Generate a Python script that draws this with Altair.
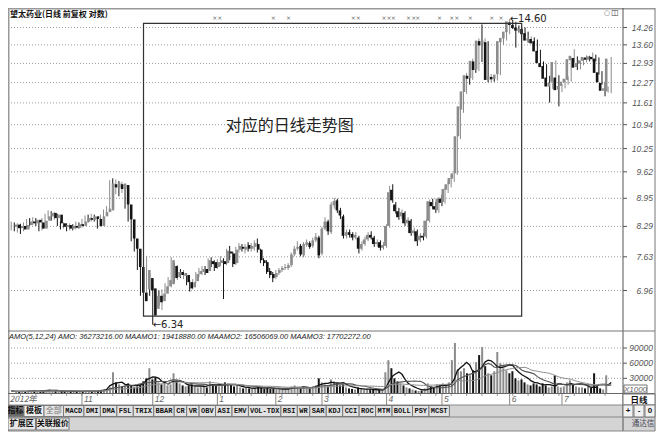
import altair as alt
import pandas as pd

# ---------------- data ----------------
opens = [8.28,8.33,8.25,8.30,8.22,8.32,8.40,8.36,8.44,8.38,
         8.24,8.42,8.52,8.60,8.48,8.56,8.36,8.28,8.32,8.24,
         8.30,8.26,8.34,8.30,8.40,8.48,8.44,8.52,8.46,8.30,
         8.52,8.62,8.66,9.30,9.22,9.30,9.18,9.28,8.80,8.45,
         8.02,7.80,7.42,6.92,6.98,7.20,7.00,6.62,6.86,6.76,
         6.90,7.04,7.08,7.44,7.22,7.32,7.24,7.26,7.12,7.02,
         7.14,7.28,7.32,7.38,7.34,7.54,7.52,7.42,7.50,7.54,
         7.50,7.74,7.70,7.50,7.78,7.84,7.78,7.88,7.80,7.84,
         7.90,7.78,7.56,7.52,7.34,7.28,7.22,7.30,7.36,7.40,
         7.40,7.46,7.68,7.80,7.86,7.66,7.88,7.92,7.86,7.98,
         8.04,7.70,8.24,8.40,8.16,8.78,8.90,8.66,8.52,8.08,
         8.16,8.12,8.04,8.04,7.80,7.90,8.00,8.10,8.04,7.90,
         7.94,7.82,7.86,8.30,9.16,8.80,8.64,8.52,8.60,8.36,
         8.42,8.14,8.18,7.98,8.08,8.06,8.42,8.86,8.76,8.66,
         8.94,8.86,9.16,9.30,9.44,9.58,10.60,11.40,11.96,12.50,
         12.42,13.00,12.72,13.74,13.62,13.70,12.36,12.46,12.40,12.56,
         13.70,13.84,14.08,14.46,14.36,14.26,14.14,14.20,14.04,13.76,
         13.82,13.74,13.38,12.94,12.84,12.44,12.14,12.30,12.44,12.04,
         12.16,12.28,12.36,13.04,13.12,12.80,12.92,13.02,13.14,13.06,
         13.16,13.10,12.62,12.26,12.00,11.98]
highs = [8.40,8.38,8.36,8.35,8.38,8.46,8.48,8.50,8.48,8.42,
         8.48,8.58,8.66,8.64,8.62,8.58,8.40,8.38,8.36,8.36,
         8.34,8.40,8.38,8.46,8.54,8.56,8.58,8.56,8.50,8.56,
         8.68,8.76,9.40,9.45,9.42,9.38,9.36,9.32,8.86,8.48,
         8.06,7.84,7.46,7.00,7.65,7.28,7.06,6.92,6.96,6.98,
         7.10,7.22,7.62,7.50,7.46,7.38,7.36,7.30,7.16,7.18,
         7.32,7.40,7.44,7.44,7.60,7.62,7.56,7.58,7.64,7.60,
         7.80,7.86,7.74,7.84,7.92,7.90,7.90,7.94,7.92,7.98,
         8.02,7.80,7.60,7.56,7.40,7.32,7.36,7.40,7.44,7.48,
         7.50,7.72,7.86,7.96,7.90,7.94,8.00,7.96,8.04,8.14,
         8.08,8.28,8.50,8.44,8.86,8.96,8.94,8.72,8.56,8.22,
         8.22,8.16,8.16,8.08,7.96,8.06,8.16,8.18,8.08,8.00,
         7.98,7.94,8.34,9.26,9.30,8.86,8.72,8.68,8.64,8.50,
         8.46,8.26,8.22,8.14,8.14,8.46,8.92,8.94,8.86,8.98,
         9.04,9.24,9.38,9.54,9.64,10.64,11.56,12.06,12.60,12.62,
         13.10,13.06,13.84,14.38,13.84,13.74,12.56,12.52,12.60,13.80,
         13.94,14.16,14.60,14.56,14.48,14.34,14.30,14.26,14.10,13.92,
         13.88,13.80,13.42,13.00,12.90,12.50,12.34,13.04,12.52,12.22,
         12.36,12.48,13.14,13.44,13.18,13.02,13.10,13.22,13.20,13.32,
         13.24,13.14,12.66,12.30,12.14,13.16]
lows = [8.20,8.18,8.15,8.12,8.18,8.28,8.30,8.32,8.30,8.18,
        8.20,8.38,8.46,8.42,8.44,8.30,8.22,8.24,8.18,8.20,
        8.20,8.22,8.24,8.26,8.36,8.38,8.40,8.40,8.24,8.28,
        8.48,8.56,8.62,9.10,9.05,9.00,9.08,8.70,8.40,7.96,
        7.74,7.36,6.86,6.70,6.92,6.86,6.34,6.56,6.68,6.60,
        6.84,6.96,7.02,7.12,7.16,7.20,7.18,7.06,6.94,6.98,
        7.10,7.22,7.26,7.26,7.30,7.42,7.34,7.38,7.44,6.80,
        7.46,7.56,7.42,7.46,7.72,7.74,7.70,7.74,7.74,7.76,
        7.72,7.50,7.44,7.28,7.20,7.12,7.18,7.26,7.32,7.36,
        7.36,7.42,7.64,7.76,7.64,7.62,7.84,7.80,7.82,7.94,
        7.60,7.66,8.20,8.10,8.12,8.70,8.60,8.46,8.02,8.02,
        8.04,7.98,8.00,7.70,7.76,7.86,7.96,8.00,7.84,7.84,
        7.76,7.78,7.82,8.26,8.84,8.58,8.44,8.46,8.30,8.30,
        8.08,8.08,7.86,7.94,7.98,8.02,8.38,8.70,8.60,8.60,
        8.76,8.82,9.08,9.22,9.36,9.54,10.52,11.30,11.90,12.20,
        12.36,12.60,12.66,12.98,13.56,12.28,12.28,12.30,12.34,12.52,
        13.60,13.76,14.00,14.20,13.50,14.06,14.06,13.92,13.68,13.64,
        13.56,13.30,12.86,12.70,12.32,11.62,12.06,12.24,11.50,11.96,
        12.08,12.20,12.30,12.96,12.70,12.72,12.86,12.96,13.00,13.00,
        13.00,12.54,12.20,11.82,11.94,11.92]
closes = [8.33,8.25,8.30,8.22,8.32,8.40,8.36,8.44,8.38,8.24,
          8.42,8.52,8.60,8.48,8.56,8.36,8.28,8.32,8.24,8.30,
          8.26,8.34,8.30,8.40,8.48,8.44,8.52,8.46,8.30,8.52,
          8.62,8.70,9.32,9.22,9.34,9.18,9.30,8.80,8.45,8.02,
          7.80,7.42,6.92,6.76,7.36,6.96,6.50,6.86,6.74,6.90,
          7.04,7.16,7.56,7.20,7.32,7.26,7.30,7.12,7.00,7.12,
          7.28,7.34,7.38,7.30,7.56,7.48,7.40,7.52,7.56,7.48,
          7.76,7.70,7.48,7.78,7.86,7.80,7.84,7.80,7.86,7.92,
          7.78,7.56,7.50,7.32,7.26,7.20,7.30,7.36,7.40,7.42,
          7.46,7.68,7.80,7.84,7.68,7.90,7.94,7.84,7.98,8.06,
          7.66,8.24,8.40,8.18,8.80,8.88,8.66,8.54,8.08,8.16,
          8.10,8.04,8.10,7.80,7.90,8.00,8.10,8.04,7.90,7.94,
          7.82,7.88,8.30,9.10,8.90,8.64,8.50,8.62,8.36,8.44,
          8.14,8.20,7.96,8.08,8.04,8.42,8.88,8.76,8.68,8.94,
          8.84,9.18,9.30,9.46,9.58,10.60,11.50,11.98,12.52,12.40,
          13.02,12.70,13.76,13.58,13.76,12.36,12.48,12.38,12.54,13.74,
          13.86,14.10,14.50,14.36,14.24,14.14,14.22,14.00,13.76,13.84,
          13.66,13.36,12.94,12.80,12.40,12.14,12.26,12.98,12.02,12.16,
          12.30,12.40,13.08,13.20,12.78,12.94,13.04,13.16,13.06,13.18,
          13.08,12.60,12.28,12.00,12.08,13.10]
amounts = [5000,4000,3500,4000,5000,4500,6000,4000,3500,5000,
           7000,8000,6000,5000,4500,6000,5000,4000,4500,3500,
           4000,5000,4500,5000,4500,4000,5500,5000,6000,7000,
           9000,12000,42000,22000,18000,14000,16000,20000,16000,12000,
           14000,18000,24000,30000,50000,28000,32000,22000,18000,20000,
           16000,18000,40000,26000,20000,16000,14000,16000,18000,14000,
           12000,14000,16000,12000,24000,18000,16000,14000,16000,22000,
           20000,18000,14000,16000,12000,10000,12000,10000,9000,11000,
           14000,12000,10000,12000,9000,10000,8000,9000,8000,10000,
           9000,14000,16000,12000,10000,14000,12000,10000,14000,16000,
           30000,22000,18000,14000,28000,24000,20000,16000,18000,12000,
           10000,9000,8000,12000,8000,7000,9000,8000,7000,6000,
           8000,7000,42000,66000,50000,30000,24000,20000,16000,12000,
           10000,8000,6000,5000,6000,10000,20000,14000,12000,18000,
           16000,20000,18000,22000,66000,100000,48000,44000,50000,40000,
           36000,46000,62000,76000,92000,54000,40000,36000,44000,82000,
           60000,50000,46000,40000,44000,30000,26000,28000,22000,18000,
           16000,20000,18000,14000,20000,16000,12000,14000,36000,14000,
           12000,14000,22000,26000,18000,14000,12000,12000,10000,14000,
           12000,40000,14000,10000,8000,36000]

price_ticks = [14.26, 13.60, 12.93, 12.27, 11.61, 10.94, 10.25, 9.62, 8.95, 8.29, 7.63, 6.96]
price_tick_labels = ["14.26", "13.60", "12.93", "12.27", "11.61", "10.94", "10.25",
                     "9.62", "8.95", "8.29", "7.63", "6.96"]
vol_ticks = [90000, 60000, 30000]
month_labels = ["11", "12", "1", "2", "3", "4", "5", "6", "7"]
month_start = [23, 46, 67, 86, 101, 122, 140, 162, 179]
event_idx = [66, 85, 90, 111, 121, 124, 129, 132, 139, 143, 149, 156, 159]
event_mark = ["××", "×", "×", "××", "××", "×", "××", "×", "×", "××", "×", "×", "×"]
extreme_idx = [162, 46]
extreme_price = [14.60, 6.34]
extreme_label = ["←14.60", "←6.34"]
indicator_buttons = ["MACD", "DMI", "DMA", "FSL", "TRIX", "BBAR", "CR", "VR", "OBV", "ASI", "EMV",
                     "VOL-TDX", "RSI", "WR", "SAR", "KDJ", "CCI", "ROC", "MTM", "BOLL", "PSY", "MCST"]

n = len(closes)
df = pd.DataFrame(dict(idx=list(range(n)), open=opens, high=highs, low=lows, close=closes,
                       amo=amounts,
                       dir=["up" if c >= o else "down" for o, c in zip(opens, closes)]))

# ---------------- scales (chart pixel space) ----------------
XS = alt.Scale(domain=[0, 195], range=[3.2, 603.2], nice=False, zero=False)
PS = alt.Scale(type="log", domain=[6.96, 14.26], range=[282.5, 19.5], nice=False, zero=False)
VS = alt.Scale(domain=[0, 90000], range=[385.5, 340], nice=False, zero=False)
DIR = alt.Scale(domain=["up", "down"], range=["#8c8c8c", "#141414"])

SANS = "Liberation Sans"
CJK = "Noto Sans CJK SC"

def X(f="idx"):
    return alt.X(f"{f}:Q", scale=XS, axis=None)

def YP(f):
    return alt.Y(f"{f}:Q", scale=PS, axis=None)

def YV(f):
    return alt.Y(f"{f}:Q", scale=VS, axis=None)

def one(**cols):
    return pd.DataFrame({k: [v] for k, v in cols.items()} or {"a": [0]})

def text_px(s, x, y, size=8, color="#222", font=SANS, align="left", weight="normal", style="normal"):
    return alt.Chart(one(t=s)).mark_text(
        align=align, baseline="middle", fontSize=size, color=color, font=font,
        fontWeight=weight, fontStyle=style
    ).encode(x=alt.value(x), y=alt.value(y), text="t:N")

def rect_px(x0, y0, x1, y1, fill, stroke="#808080", sw=1):
    return alt.Chart(one(a=0)).mark_rect(fill=fill, stroke=stroke, strokeWidth=sw).encode(
        x=alt.value(x0), x2=alt.value(x1), y=alt.value(y0), y2=alt.value(y1))

layers = []

# UI strips
layers.append(rect_px(0, 397, 615, 409, "#d4d4d4", stroke="#d4d4d4", sw=0))
layers.append(rect_px(0, 409, 647, 423, "#d4d4d4", stroke="#d4d4d4", sw=0))

# gridlines
pt = pd.DataFrame({"p": price_ticks, "lab": price_tick_labels})
layers.append(alt.Chart(pt).mark_rule(color="#9a9a9a", strokeDash=[1, 2], strokeWidth=1).encode(
    y=YP("p"), x=alt.value(0), x2=alt.value(615)))
vt = pd.DataFrame({"v": vol_ticks, "lab": [str(v) for v in vol_ticks]})
layers.append(alt.Chart(vt).mark_rule(color="#9a9a9a", strokeDash=[1, 2], strokeWidth=1).encode(
    y=YV("v"), x=alt.value(0), x2=alt.value(615)))

# candles
base = alt.Chart(df)
col = alt.Color("dir:N", scale=DIR, legend=None)
layers.append(base.mark_rule(strokeWidth=1).encode(x=X(), y=YP("low"), y2="high", color=col))
layers.append(base.mark_bar(size=2.6).encode(x=X(), y=YP("open"), y2="close", color=col))

# volume
layers.append(base.mark_bar(size=2).encode(x=X(), y=YV("amo"), y2=alt.value(385.5), color=col))
ma = (base.transform_window(ma5="mean(amo)", frame=[-4, 0], sort=[alt.SortField("idx")])
          .transform_window(ma12="mean(amo)", frame=[-11, 0], sort=[alt.SortField("idx")])
          .transform_window(ma24="mean(amo)", frame=[-23, 0], sort=[alt.SortField("idx")])
          .transform_fold(["ma5", "ma12", "ma24"], as_=["ma", "val"]))
layers.append(ma.mark_line().encode(
    x=X(), y=YV("val"),
    color=alt.Color("ma:N", scale=alt.Scale(domain=["ma5", "ma12", "ma24"],
                                             range=["#111111", "#555555", "#8f8f8f"]), legend=None),
    strokeWidth=alt.StrokeWidth("ma:N", scale=alt.Scale(domain=["ma5", "ma12", "ma24"],
                                                        range=[1.3, 1, 1]), legend=None),
    detail="ma:N"))

# annotation box and text
box = pd.DataFrame({"x0": [43.0], "x1": [165.9], "y0": [14.42], "y1": [6.49]})
layers.append(alt.Chart(box).mark_rect(fillOpacity=0, stroke="#333333", strokeWidth=1.2).encode(
    x=alt.X("x0:Q", scale=XS, axis=None), x2="x1:Q", y=YP("y0"), y2="y1"))
note = pd.DataFrame({"i": [90.5], "p": [10.9], "t": ["对应的日线走势图"]})
layers.append(alt.Chart(note).mark_text(fontSize=16, font=CJK, color="#222", align="center",
                                        baseline="middle").encode(
    x=alt.X("i:Q", scale=XS, axis=None), y=YP("p"), text="t:N"))

# extremes
ex = pd.DataFrame({"i": extreme_idx, "p": extreme_price, "t": extreme_label})
layers.append(alt.Chart(ex).mark_text(fontSize=10, font="DejaVu Sans", color="#222", align="left",
                                      baseline="middle", dx=0).encode(
    x=alt.X("i:Q", scale=XS, axis=None), y=YP("p"), text="t:N"))

# event marks
ev = pd.DataFrame({"i": event_idx, "t": event_mark})
layers.append(alt.Chart(ev).mark_text(fontSize=6, color="#666", font="DejaVu Sans", align="left",
                                      baseline="middle", dx=-2).encode(
    x=alt.X("i:Q", scale=XS, axis=None), y=alt.value(10), text="t:N"))

# right axis labels + ticks
layers.append(alt.Chart(pt).mark_text(align="right", baseline="middle", fontSize=8.5, font=SANS,
                                      fontStyle="italic", color="#555").encode(
    y=YP("p"), x=alt.value(645), text="lab:N"))
layers.append(alt.Chart(pt).mark_rule(color="#555").encode(y=YP("p"), x=alt.value(615), x2=alt.value(619)))
layers.append(alt.Chart(vt).mark_text(align="right", baseline="middle", fontSize=8.5, font=SANS,
                                      fontStyle="italic", color="#555").encode(
    y=YV("v"), x=alt.value(645), text="lab:N"))
layers.append(alt.Chart(vt).mark_rule(color="#555").encode(y=YV("v"), x=alt.value(615), x2=alt.value(619)))
layers.append(rect_px(616, 377, 639, 385, "#ffffff", stroke="#777", sw=1))
layers.append(text_px("X1000", 627.5, 381.5, size=8, color="#666", align="center", style="italic"))

# date axis
ms = pd.DataFrame({"i": month_start, "t": month_labels})
layers.append(alt.Chart(ms).mark_rule(color="#888").encode(
    x=alt.X("i:Q", scale=XS, axis=None), y=alt.value(385.5), y2=alt.value(397)))
wk = pd.DataFrame({"i": list(range(3, 196, 5))})
layers.append(alt.Chart(wk).mark_rule(color="#999").encode(
    x=alt.X("i:Q", scale=XS, axis=None), y=alt.value(385.5), y2=alt.value(388)))
layers.append(alt.Chart(ms).mark_text(align="left", baseline="middle", dx=2, fontSize=8.5, font=SANS,
                                      fontStyle="italic", color="#666").encode(
    x=alt.X("i:Q", scale=XS, axis=None), y=alt.value(391), text="t:N"))
layers.append(text_px("2012年", 1.5, 391, size=8.5, color="#666", font=CJK, style="italic"))

# frame lines
segs = pd.DataFrame({
    "x0": [0, 0.5, 647, 615, 0, 0, 0, 0, 0],
    "x1": [647, 0.5, 647, 615, 647, 647, 647, 647, 647],
    "y0": [0.5, 0, 0, 0, 323, 385.5, 397, 409, 423],
    "y1": [0.5, 423, 423, 423, 323, 385.5, 397, 409, 423],
    "c": ["#999", "#999", "#777", "#555", "#777", "#666", "#888", "#888", "#888"],
    "w": [2, 2, 1, 1, 1.2, 1, 1, 1, 1],
})
layers.append(alt.Chart(segs).mark_rule().encode(
    x=alt.X("x0:Q", scale=None, axis=None), x2="x1:Q",
    y=alt.Y("y0:Q", scale=None, axis=None), y2="y1:Q",
    color=alt.Color("c:N", scale=None), strokeWidth=alt.StrokeWidth("w:Q", scale=None)))

# headers
layers.append(text_px("望太药业(日线 前复权 对数)", 2, 6.5, size=8, color="#111", font=CJK, weight="bold"))
layers.append(text_px("○", 599, 5, size=7, color="#666", font="DejaVu Sans", align="center"))
layers.append(text_px("◫", 607, 5, size=8, color="#444", font="DejaVu Sans", align="center"))
layers.append(text_px("AMO(5,12,24) AMO: 36273216.00 MAAMO1: 19418880.00 MAAMO2: 16506069.00 MAAMO3: 17702272.00",
                      1, 329, size=7.5, color="#222", style="italic"))

# buttons
cjk_btn = [("指标", -1, 16, "#6e6e6e", "#111"), ("模板", 16, 36, "#f2f2f2", "#111"),
           ("全部", 36, 55.5, "#e6e6e6", "#9a9a9a")]
rows = []
for lab, a, b, f, t in cjk_btn:
    rows.append(dict(x0=a, x1=b, xc=(a + b) / 2, lab=lab, fill=f, tc=t))
x = 55.5
for lab in indicator_buttons:
    w = 4.0 * len(lab) + 4.45
    rows.append(dict(x0=x, x1=x + w, xc=x + w / 2, lab=lab, fill="#e2e2e2", tc="#111"))
    x += w
btn = pd.DataFrame(rows)
layers.append(alt.Chart(btn).mark_rect(stroke="#7a7a7a", strokeWidth=1).encode(
    x=alt.X("x0:Q", scale=None, axis=None), x2="x1:Q", y=alt.value(397.5), y2=alt.value(408.5),
    fill=alt.Fill("fill:N", scale=None)))
layers.append(alt.Chart(btn[btn.index < 3]).mark_text(fontSize=8, font=CJK, fontWeight="bold",
                                                     baseline="middle", align="center").encode(
    x=alt.X("xc:Q", scale=None, axis=None), y=alt.value(403), text="lab:N",
    color=alt.Color("tc:N", scale=None)))
layers.append(alt.Chart(btn[btn.index >= 3]).mark_text(fontSize=7, font="Liberation Mono", fontWeight="bold",
                                                      baseline="middle", align="center").encode(
    x=alt.X("xc:Q", scale=None, axis=None), y=alt.value(403), text="lab:N",
    color=alt.Color("tc:N", scale=None)))

# bottom row
layers.append(rect_px(0, 410, 27.5, 422, "#e6e6e6", stroke="#7a7a7a"))
layers.append(rect_px(28.5, 410, 61, 422, "#e6e6e6", stroke="#7a7a7a"))
layers.append(text_px("扩展区", 13.7, 416, size=8, font=CJK, color="#111", align="center", weight="bold"))
layers.append(text_px("关联报价", 44.7, 416, size=8, font=CJK, color="#111", align="center", weight="bold"))

# right column cells
layers.append(rect_px(615, 386, 647, 397, "#ffffff", stroke="#777"))
layers.append(text_px("日线", 631, 391.5, size=8.5, font=CJK, color="#111", align="center", weight="bold"))
layers.append(rect_px(615, 397, 625, 409, "#f2f2f2", stroke="#777"))
layers.append(rect_px(626, 397, 636, 409, "#f2f2f2", stroke="#777"))
layers.append(rect_px(637, 397, 647, 409, "#f2f2f2", stroke="#777"))
layers.append(text_px("+", 620, 403, size=8, color="#111", align="center", weight="bold"))
layers.append(text_px("-", 631, 403, size=8, color="#111", align="center", weight="bold"))
layers.append(text_px("0", 642, 403, size=8, color="#111", align="center", weight="bold"))
layers.append(text_px("通达信", 635, 416, size=7.5, font=CJK, color="#445", align="center"))

chart = alt.layer(*layers).resolve_scale(
    x="independent", y="independent", color="independent", fill="independent", strokeWidth="independent"
).properties(
    width=649, height=424, autosize=alt.AutoSizeParams(type="none"), padding=0, background="white"
).configure_view(strokeWidth=0)

chart.save("out.html", embed_options={"renderer": "svg", "actions": False})
